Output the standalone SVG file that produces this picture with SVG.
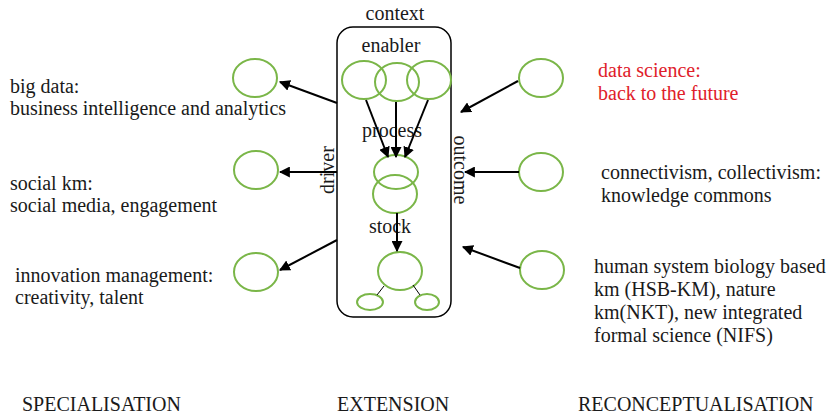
<svg xmlns="http://www.w3.org/2000/svg" width="830" height="415" viewBox="0 0 830 415">
  <style>
    .lbl { font-family: 'Liberation Serif', 'Times New Roman', 'DejaVu Serif', serif; font-size: 20px; fill: #1a1a1a; }
    .red { fill: #e0202a; }
    .node { fill: none; stroke: #7ab648; stroke-width: 2; }
    .edge { stroke: #000; stroke-width: 2; fill: none; }
    .thin { stroke: #000; stroke-width: 1; fill: none; }
    .frame { fill: none; stroke: #000; stroke-width: 1.5; }
  </style>
  <defs>
    <marker id="arrow" viewBox="0 0 10 10" refX="9" refY="5" markerWidth="5.5" markerHeight="5.5" orient="auto" markerUnits="strokeWidth">
      <path d="M0,0 L10,5 L0,10 z" fill="#000"/>
    </marker>
  </defs>

  <rect width="830" height="415" fill="#fff"/>

  <!-- central extension frame -->
  <g id="frame" class="lbl">
    <rect class="frame" x="337" y="27" width="114" height="290" rx="16" ry="16"/>
    <text x="395" y="20" text-anchor="middle">context</text>
    <text x="391" y="52" text-anchor="middle">enabler</text>
    <text x="392" y="137" text-anchor="middle">process</text>
    <text x="390" y="233" text-anchor="middle">stock</text>
    <text transform="translate(334,170) rotate(-90)" text-anchor="middle">driver</text>
    <text transform="translate(454,170) rotate(90)" text-anchor="middle">outcome</text>
  </g>

  <!-- nodes inside the frame -->
  <g id="enabler">
    <ellipse class="node" cx="364" cy="80" rx="22" ry="19"/>
    <ellipse class="node" cx="397" cy="82" rx="22" ry="19"/>
    <ellipse class="node" cx="429" cy="80" rx="22" ry="19"/>
  </g>
  <g id="process">
    <ellipse class="node" cx="396" cy="172" rx="22" ry="17"/>
    <ellipse class="node" cx="395" cy="194" rx="22" ry="19"/>
  </g>
  <g id="stock">
    <ellipse class="node" cx="400" cy="271" rx="22" ry="19"/>
    <ellipse class="node" cx="370" cy="302" rx="13" ry="8"/>
    <ellipse class="node" cx="427" cy="302" rx="12" ry="8"/>
  </g>

  <!-- outer nodes -->
  <g id="specialisation-nodes">
    <ellipse class="node" cx="255" cy="78" rx="22" ry="19"/>
    <ellipse class="node" cx="256" cy="170" rx="22" ry="19"/>
    <ellipse class="node" cx="256" cy="272" rx="22" ry="19"/>
  </g>
  <g id="reconceptualisation-nodes">
    <ellipse class="node" cx="541" cy="78" rx="22" ry="19"/>
    <ellipse class="node" cx="541" cy="172" rx="22" ry="19"/>
    <ellipse class="node" cx="542" cy="270" rx="22" ry="19"/>
  </g>

  <!-- connectors -->
  <g id="connectors">
    <line class="edge" x1="366" y1="100" x2="388" y2="157" marker-end="url(#arrow)"/>
    <line class="edge" x1="396" y1="102" x2="396" y2="157" marker-end="url(#arrow)"/>
    <line class="edge" x1="428" y1="100" x2="405" y2="157" marker-end="url(#arrow)"/>
    <line class="edge" x1="397" y1="213" x2="397" y2="251" marker-end="url(#arrow)"/>
    <line class="thin" x1="384" y1="286" x2="377" y2="295"/>
    <line class="thin" x1="413" y1="285" x2="420" y2="295"/>

    <line class="edge" x1="337" y1="103" x2="280" y2="82" marker-end="url(#arrow)"/>
    <line class="edge" x1="337" y1="172" x2="280" y2="172" marker-end="url(#arrow)"/>
    <line class="edge" x1="337" y1="240" x2="280" y2="270" marker-end="url(#arrow)"/>

    <line class="edge" x1="518" y1="81" x2="461" y2="112" marker-end="url(#arrow)"/>
    <line class="edge" x1="519" y1="172" x2="465" y2="172" marker-end="url(#arrow)"/>
    <line class="edge" x1="520" y1="268" x2="463" y2="247" marker-end="url(#arrow)"/>
  </g>

  <!-- labels -->
  <g id="labels-left" class="lbl">
    <text x="10" y="93">big data:</text>
    <text x="10" y="115">business intelligence and analytics</text>
    <text x="10" y="190">social km:</text>
    <text x="10" y="212">social media, engagement</text>
    <text x="15" y="282">innovation management:</text>
    <text x="15" y="304">creativity, talent</text>
  </g>
  <g id="labels-right" class="lbl">
    <text class="red" x="598" y="77">data science:</text>
    <text class="red" x="598" y="100">back to the future</text>
    <text x="601" y="179">connectivism, collectivism:</text>
    <text x="601" y="202">knowledge commons</text>
    <text x="594" y="273">human system biology based</text>
    <text x="594" y="296">km (HSB-KM), nature</text>
    <text x="594" y="319">km(NKT), new integrated</text>
    <text x="594" y="342">formal science (NIFS)</text>
  </g>
  <g id="labels-bottom" class="lbl">
    <text x="22" y="411">SPECIALISATION</text>
    <text x="337" y="411">EXTENSION</text>
    <text x="578" y="411">RECONCEPTUALISATION</text>
  </g>
</svg>
